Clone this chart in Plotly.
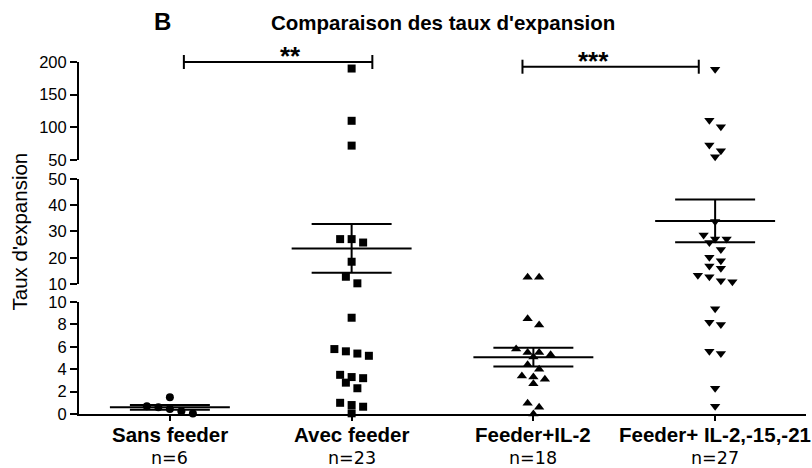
import numpy as np
import plotly.graph_objects as go

# ---------------- data ----------------
categories = ["Sans feeder", "Avec feeder", "Feeder+IL-2", "Feeder+ IL-2,-15,-21"]
counts = ["n=6", "n=23", "n=18", "n=27"]

sans_feeder = [1.5, 0.7, 0.6, 0.45, 0.25, 0.05]
avec_feeder = [190, 110, 72, 27.1, 25.8, 27.1, 18.5, 12.8, 10.3, 8.6, 5.8, 5.4,
               5.2, 5.6, 3.3, 3.5, 3.2, 2.8, 2.3, 0.8, 0.65, 1.0, 0.06]
feeder_il2 = [12.6, 12.6, 8.5, 7.95, 5.5, 5.3, 5.5, 5.8, 5.1, 4.4, 4.0, 3.4,
              3.1, 2.7, 3.3, 0.95, 0.6, 0.0]
feeder_il2_15_21 = [189, 111, 101, 73, 64, 55, 33.8, 28.7, 27.1, 25.8, 27.1,
                    23.2, 20.2, 18.9, 16.9, 16.0, 13.4, 12.8, 11.3, 10.9, 9.4,
                    8.2, 8.0, 5.4, 5.6, 2.3, 0.7]

seg_ticks = [[0, 2, 4, 6, 8, 10], [10, 20, 30, 40, 50], [50, 100, 150, 200]]
comparisons = [(0, 1, "**"), (2, 3, "***")]

groups = [sans_feeder, avec_feeder, feeder_il2, feeder_il2_15_21]
symbols = ["circle", "square", "triangle-up", "triangle-down"]
msizes = [8, 8, 9, 9]

# ---------------- layout geometry ----------------
W, H = 812, 468
ML, MR, MT, MB = 79, 6, 62, 54
PW, PH = W - ML - MR, H - MT - MB
seg_ranges = [(0, 10), (10, 50), (50, 200)]
seg_domains = [(0.0, 0.318), (0.369, 0.668), (0.7216, 1.0)]
yrefs = ["y", "y2", "y3"]
xrange_ = (-0.5, 3.5)
px_per_x = PW / (xrange_[1] - xrange_[0])


def seg_of(v):
    if v < 10:
        return 0
    if v < 50:
        return 1
    return 2


def pix(v):
    k = seg_of(v)
    lo, hi = seg_ranges[k]
    d0, d1 = seg_domains[k]
    return PH * (d0 + (v - lo) / (hi - lo) * (d1 - d0))


def swarm(values, spacing_px=11.5, tol_px=7.5):
    order = sorted(range(len(values)), key=lambda i: -pix(values[i]))
    offs = [0.0] * len(values)
    rows, cur, start = [], [], None
    for i in order:
        p = pix(values[i])
        if start is None or abs(start - p) < tol_px:
            if start is None:
                start = p
            cur.append(i)
        else:
            rows.append(cur)
            cur, start = [i], p
    if cur:
        rows.append(cur)
    for row in rows:
        n = len(row)
        for j, i in enumerate(row):
            offs[i] = (j - (n - 1) / 2) * spacing_px / px_per_x
    return offs


fig = go.Figure()
LW = 2

for gi, vals in enumerate(groups):
    offs = swarm(vals)
    for k in range(3):
        xs = [gi + offs[i] for i, v in enumerate(vals) if seg_of(v) == k]
        ys = [v for v in vals if seg_of(v) == k]
        if not ys:
            continue
        fig.add_trace(go.Scatter(
            x=xs, y=ys, mode="markers", yaxis=yrefs[k], cliponaxis=False,
            marker=dict(symbol=symbols[gi], size=msizes[gi], color="black",
                        line=dict(width=0)),
            showlegend=False, hoverinfo="skip"))
    arr = np.array(vals, dtype=float)
    mean = arr.mean()
    sem = arr.std(ddof=1) / np.sqrt(len(arr))
    k = seg_of(mean)
    mw, cw = 0.33, 0.22
    segs_x = [[gi - mw, gi + mw], [gi - cw, gi + cw], [gi - cw, gi + cw], [gi, gi]]
    segs_y = [[mean, mean], [mean + sem, mean + sem], [mean - sem, mean - sem],
              [mean - sem, mean + sem]]
    for sx, sy in zip(segs_x, segs_y):
        fig.add_trace(go.Scatter(
            x=sx, y=sy, mode="lines", yaxis=yrefs[k], cliponaxis=False,
            line=dict(color="black", width=LW), showlegend=False,
            hoverinfo="skip"))


def xpaper(xd):
    return (xd - xrange_[0]) / (xrange_[1] - xrange_[0])


# significance brackets
bracket_y = [1.0, 0.9866]
bracket_dx = [(0.077, 0.114), (-0.06, -0.09)]
for (a, b, stars), by, (da, db) in zip(comparisons, bracket_y, bracket_dx):
    x0, x1 = xpaper(a + da), xpaper(b + db)
    cap = 7 / PH
    fig.add_shape(type="line", xref="paper", yref="paper", x0=x0, x1=x1,
                  y0=by, y1=by, line=dict(color="black", width=LW))
    for xx in (x0, x1):
        fig.add_shape(type="line", xref="paper", yref="paper", x0=xx, x1=xx,
                      y0=by - cap, y1=by + cap, line=dict(color="black", width=LW))
    fig.add_annotation(xref="paper", yref="paper", x=(x0 + x1) / 2, y=by,
                       text="<b>" + stars + "</b>", showarrow=False, yanchor="bottom",
                       yshift=-11,
                       font=dict(family="Liberation Sans", size=26, color="black"))

# category labels
for gi, (cat, n) in enumerate(zip(categories, counts)):
    fig.add_annotation(xref="x", yref="paper", x=gi, y=-20 / PH, text="<b>" + cat + "</b>",
                       showarrow=False, yanchor="middle",
                       font=dict(family="Liberation Sans", size=20.5, color="black"))
    fig.add_annotation(xref="x", yref="paper", x=gi, y=-44 / PH, text=n,
                       showarrow=False, yanchor="middle",
                       font=dict(family="DejaVu Sans", size=17.5, color="black"))

fig.add_annotation(xref="paper", yref="paper", x=0.5, y=(PH + MT - 23) / PH,
                   text="<b>Comparaison des taux d'expansion</b>", showarrow=False,
                   yanchor="middle",
                   font=dict(family="Liberation Sans", size=20.5, color="black"))
fig.add_annotation(xref="paper", yref="paper", x=(152 - ML) / PW, y=(PH + MT - 21) / PH,
                   text="<b>B</b>", showarrow=False, yanchor="middle",
                   font=dict(family="Liberation Sans", size=24, color="black"))
fig.add_annotation(xref="paper", yref="paper", x=(18.5 - ML) / PW, y=(414 - 232) / PH,
                   text="Taux d'expansion", showarrow=False, textangle=-90,
                   xanchor="center", yanchor="middle",
                   font=dict(family="Liberation Sans", size=20.5, color="black"))

axis_common = dict(showline=True, linewidth=LW, linecolor="black", ticks="outside",
                   ticklen=7, tickwidth=LW, tickcolor="black", showgrid=False,
                   zeroline=False, anchor="x",
                   tickfont=dict(family="Liberation Sans", size=16.5, color="black"))
layout_axes = {}
for k, name in enumerate(["yaxis", "yaxis2", "yaxis3"]):
    layout_axes[name] = dict(axis_common, domain=list(seg_domains[k]),
                             range=list(seg_ranges[k]), tickvals=seg_ticks[k],
                             fixedrange=True)

fig.update_layout(
    width=W, height=H, margin=dict(l=ML, r=MR, t=MT, b=MB),
    plot_bgcolor="white", paper_bgcolor="white",
    xaxis=dict(domain=[0, 1], range=list(xrange_), anchor="y", showline=True,
               linewidth=LW, linecolor="black", ticks="outside", ticklen=5,
               tickwidth=LW, tickcolor="black", tickvals=[0, 1, 2, 3],
               showticklabels=False, showgrid=False, zeroline=False,
               fixedrange=True),
    **layout_axes,
)

fig.write_html("out.html", config={"displayModeBar": False, "staticPlot": True},
               post_script="document.body.style.margin='0';document.body.style.overflow='hidden';")
